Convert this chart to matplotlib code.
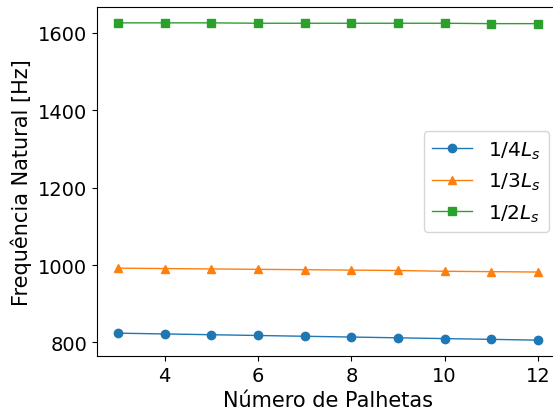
import matplotlib
matplotlib.use("Agg")
import matplotlib.pyplot as plt
import numpy as np

# numero de palhetas
n_palhetas = [3, 4, 5, 6, 7, 8, 9, 10, 11, 12]

# frequencias naturais [Hz]
freq_quarto = [824, 822, 820, 818, 816, 814, 812, 810, 808, 806]
freq_terco = [992, 991, 990, 989, 988, 987, 986, 984, 983, 982]
freq_meio = [1626, 1626, 1626, 1625, 1625, 1625, 1625, 1625, 1624, 1624]

labels = [r'$1/4L_s$', r'$1/3L_s$', r'$1/2L_s$']

W, H = 553, 410
fig = plt.figure(figsize=(W / 100, H / 100), dpi=100)
# axes run slightly past the right edge, as in the original crop
ax = fig.add_axes([97 / W, 1 - 357 / H, (559 - 97) / W, (357 - 8) / H])

ax.plot(n_palhetas, freq_quarto, 'o-', lw=1, label=labels[0])
ax.plot(n_palhetas, freq_terco, '^-', lw=1, label=labels[1])
ax.plot(n_palhetas, freq_meio, 's-', lw=1, label=labels[2])

ax.set_xlabel('Número de Palhetas', fontsize=15)
ax.set_ylabel('Frequência Natural [Hz]', fontsize=15)
ax.tick_params(labelsize=14)
ax.legend(fontsize=14.5, loc='center right')

plt.savefig('out.png')
